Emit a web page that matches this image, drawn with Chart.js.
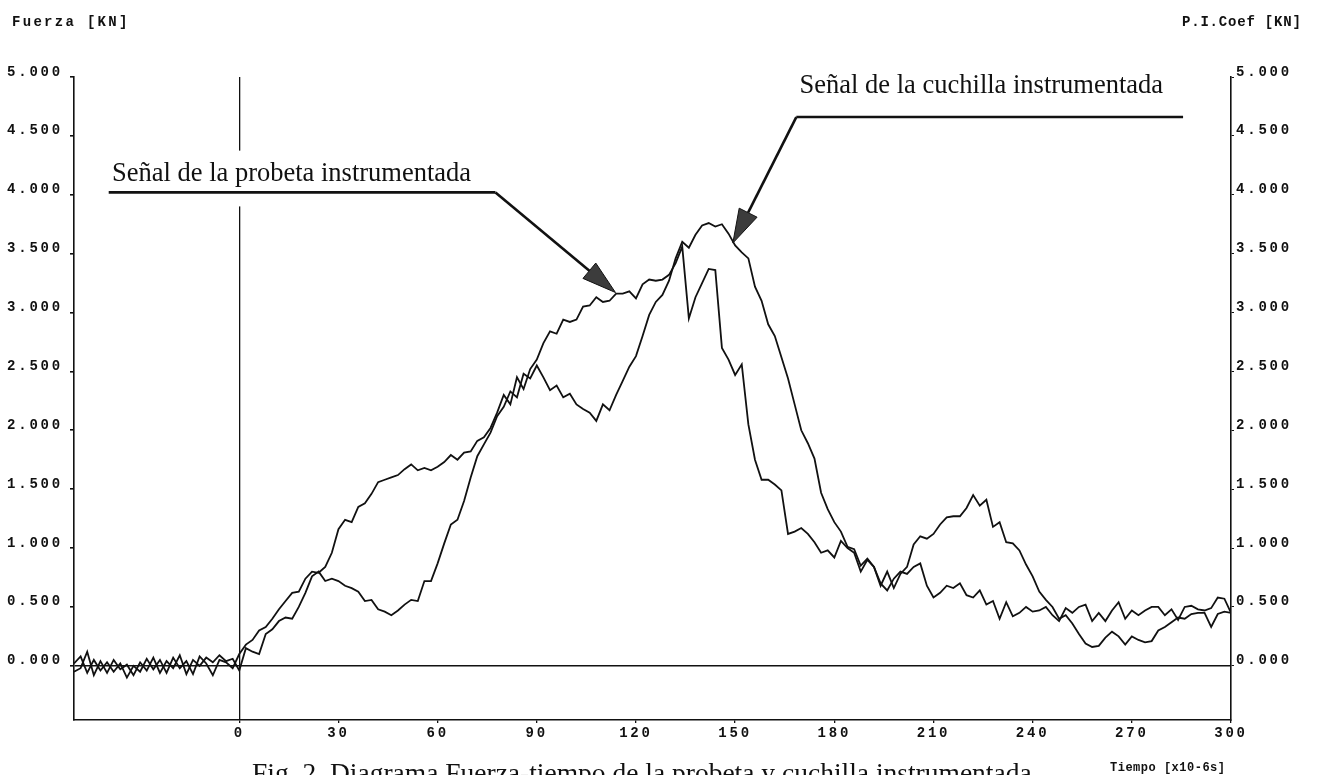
<!DOCTYPE html>
<html>
<head>
<meta charset="utf-8">
<script src="https://cdn.jsdelivr.net/npm/chart.js@4.4.0/dist/chart.umd.min.js"></script>
<style>
  html, body { margin: 0; padding: 0; background: #fff; }
  #wrap { position: relative; width: 1317px; height: 775px; overflow: hidden; }
</style>
</head>
<body>
<div id="wrap"><canvas id="chart" width="1317" height="775"></canvas></div>
<script>
// sample times, x10-6 s
const tiempo = [
  -50, -48, -46, -44, -42, -40, -38, -36, -34, -32,
  -30, -28, -26, -24, -22, -20, -18, -16, -14, -12,
  -10, -8, -6, -4, -2, 0, 2, 4, 6, 8,
  10, 12, 14, 16, 18, 20, 22, 24, 26, 28,
  30, 32, 34, 36, 38, 40, 42, 44, 46, 48,
  50, 52, 54, 56, 58, 60, 62, 64, 66, 68,
  70, 72, 74, 76, 78, 80, 82, 84, 86, 88,
  90, 92, 94, 96, 98, 100, 102, 104, 106, 108,
  110, 112, 114, 116, 118, 120, 122, 124, 126, 128,
  130, 132, 134, 136, 138, 140, 142, 144, 146, 148,
  150, 152, 154, 156, 158, 160, 162, 164, 166, 168,
  170, 172, 174, 176, 178, 180, 182, 184, 186, 188,
  190, 192, 194, 196, 198, 200, 202, 204, 206, 208,
  210, 212, 214, 216, 218, 220, 222, 224, 226, 228,
  230, 232, 234, 236, 238, 240, 242, 244, 246, 248,
  250, 252, 254, 256, 258, 260, 262, 264, 266, 268,
  270, 272, 274, 276, 278, 280, 282, 284, 286, 288,
  290, 292, 294, 296, 298, 300
];

// force, KN - specimen signal
const probeta = [
  0.02, 0.08, -0.06, 0.05, -0.04, 0.03, -0.05, 0.02, -0.10, 0.00,
  -0.05, 0.06, -0.03, 0.05, -0.06, 0.07, -0.02, 0.04, -0.07, 0.08,
  0.02, -0.08, 0.05, 0.03, -0.02, 0.10, 0.18, 0.22, 0.30, 0.33,
  0.40, 0.48, 0.55, 0.62, 0.63, 0.74, 0.80, 0.79, 0.84, 0.96,
  1.16, 1.24, 1.22, 1.35, 1.38, 1.46, 1.56, 1.58, 1.60, 1.62,
  1.67, 1.71, 1.66, 1.68, 1.66, 1.69, 1.73, 1.79, 1.75, 1.81,
  1.82, 1.91, 1.94, 2.02, 2.15, 2.30, 2.22, 2.45, 2.35, 2.52,
  2.60, 2.74, 2.84, 2.82, 2.94, 2.92, 2.94, 3.05, 3.06, 3.13,
  3.09, 3.10, 3.16, 3.16, 3.18, 3.12, 3.24, 3.28, 3.27, 3.28,
  3.32, 3.42, 3.56, 2.95, 3.13, 3.25, 3.37, 3.36, 2.70, 2.60,
  2.47, 2.56, 2.05, 1.75, 1.58, 1.58, 1.54, 1.49, 1.12, 1.14,
  1.17, 1.12, 1.05, 0.96, 0.98, 0.92, 1.06, 1.00, 0.96, 0.80,
  0.90, 0.84, 0.68, 0.80, 0.66, 0.78, 0.84, 1.03, 1.10, 1.08,
  1.12, 1.20, 1.26, 1.27, 1.27, 1.34, 1.45, 1.36, 1.41, 1.18,
  1.22, 1.05, 1.04, 0.98, 0.86, 0.76, 0.63, 0.56, 0.50, 0.40,
  0.43, 0.36, 0.27, 0.19, 0.16, 0.17, 0.24, 0.29, 0.25, 0.18,
  0.25, 0.22, 0.20, 0.21, 0.30, 0.33, 0.37, 0.41, 0.40, 0.44,
  0.45, 0.45, 0.33, 0.44, 0.46, 0.45
];

// force, KN - striker signal
const cuchilla = [
  -0.05, -0.02, 0.12, -0.08, 0.04, -0.06, 0.05, -0.03, 0.01, -0.08,
  0.03, -0.04, 0.07, -0.06, 0.04, -0.02, 0.09, -0.07, 0.05, 0.00,
  0.07, 0.03, 0.09, 0.04, 0.06, -0.04, 0.15, 0.12, 0.10, 0.27,
  0.31, 0.38, 0.41, 0.40, 0.50, 0.62, 0.76, 0.80, 0.72, 0.74,
  0.72, 0.68, 0.66, 0.63, 0.55, 0.56, 0.48, 0.46, 0.43, 0.47,
  0.52, 0.56, 0.55, 0.72, 0.72, 0.87, 1.04, 1.20, 1.24, 1.40,
  1.60, 1.78, 1.88, 1.98, 2.12, 2.20, 2.33, 2.28, 2.48, 2.44,
  2.55, 2.45, 2.34, 2.38, 2.28, 2.31, 2.22, 2.18, 2.15, 2.08,
  2.22, 2.17, 2.30, 2.42, 2.54, 2.63, 2.80, 2.98, 3.09, 3.15,
  3.27, 3.46, 3.60, 3.55, 3.66, 3.74, 3.76, 3.73, 3.75, 3.67,
  3.57, 3.51, 3.46, 3.22, 3.10, 2.90, 2.80, 2.62, 2.44, 2.22,
  2.00, 1.89, 1.76, 1.47, 1.33, 1.22, 1.14, 1.01, 0.99, 0.85,
  0.91, 0.84, 0.70, 0.64, 0.74, 0.80, 0.78, 0.84, 0.87, 0.68,
  0.58, 0.62, 0.68, 0.66, 0.70, 0.60, 0.58, 0.64, 0.52, 0.55,
  0.40, 0.54, 0.42, 0.45, 0.50, 0.46, 0.47, 0.50, 0.43, 0.38,
  0.49, 0.45, 0.50, 0.52, 0.38, 0.45, 0.38, 0.47, 0.54, 0.40,
  0.47, 0.43, 0.47, 0.50, 0.50, 0.43, 0.48, 0.39, 0.50, 0.51,
  0.48, 0.47, 0.49, 0.58, 0.57, 0.45
];

const xTicks = [0, 30, 60, 90, 120, 150, 180, 210, 240, 270, 300];
const yTicks = [0, 0.5, 1, 1.5, 2, 2.5, 3, 3.5, 4, 4.5, 5];

// callouts, anchored in data units (tiempo, fuerza)
const notaProbeta = {
  text: 'Señal de la probeta instrumentada',
  at: [-38.5, 4.12], lineY: 4.02, lineFrom: -39.5, lineTo: 77.5,
  tip: [113.8, 3.17]
};
const notaCuchilla = {
  text: 'Señal de la cuchilla instrumentada',
  at: [169.5, 4.86], lineY: 4.66, lineFrom: 168.5, lineTo: 285.5,
  tip: [149.3, 3.59]
};

const INK = '#111';
const MONO = "bold 14px 'Liberation Mono', 'DejaVu Sans Mono', monospace";
const SERIF = "'Liberation Serif', 'DejaVu Serif', serif";

function toPoints(values) {
  return tiempo.map((t, i) => ({ x: t, y: values[i] }));
}

// --- helpers ---
function drawArrow(ctx, x0, y0, x1, y1) {
  const ang = Math.atan2(y1 - y0, x1 - x0);
  const len = 34, hw = 10;
  const bx = x1 - len * Math.cos(ang), by = y1 - len * Math.sin(ang);
  ctx.save();
  ctx.beginPath();
  ctx.moveTo(x0, y0);
  ctx.lineTo(bx, by);
  ctx.stroke();
  ctx.beginPath();
  ctx.moveTo(x1, y1);
  ctx.lineTo(bx + hw * Math.sin(ang), by - hw * Math.cos(ang));
  ctx.lineTo(bx - hw * Math.sin(ang), by + hw * Math.cos(ang));
  ctx.closePath();
  ctx.fillStyle = '#3c3c3c';
  ctx.fill();
  ctx.lineWidth = 1;
  ctx.stroke();
  ctx.restore();
}

// tick labels of the plotter are spaced out
const spacing = {
  id: 'spacing',
  beforeDraw(chart) { chart.ctx.letterSpacing = '2.8px'; }
};

const callouts = {
  id: 'callouts',
  afterDraw(chart) {
    const { ctx, scales: { x, y } } = chart;
    ctx.save();
    ctx.letterSpacing = '0px';
    ctx.strokeStyle = INK;

    // pasted label hides the t=0 line behind it
    const px = x.getPixelForValue(notaProbeta.at[0]);
    const py = y.getPixelForValue(notaProbeta.at[1]);
    const ly = y.getPixelForValue(notaProbeta.lineY);
    ctx.fillStyle = '#fff';
    ctx.fillRect(px - 6, py - 30, 380, ly + 14 - (py - 30));

    [notaProbeta, notaCuchilla].forEach((n, k) => {
      const tx = x.getPixelForValue(n.at[0]);
      const ty = y.getPixelForValue(n.at[1]);
      const uy = y.getPixelForValue(n.lineY);
      const ux0 = x.getPixelForValue(n.lineFrom);
      const ux1 = x.getPixelForValue(n.lineTo);
      ctx.fillStyle = INK;
      ctx.font = '26.5px ' + SERIF;
      ctx.textAlign = 'left';
      ctx.textBaseline = 'alphabetic';
      ctx.fillText(n.text, tx, ty);
      ctx.lineWidth = 2.6;
      ctx.beginPath();
      ctx.moveTo(ux0, uy);
      ctx.lineTo(ux1, uy);
      ctx.stroke();
      const start = k === 0 ? ux1 : ux0;
      drawArrow(ctx, start, uy, x.getPixelForValue(n.tip[0]), y.getPixelForValue(n.tip[1]));
    });

    // axis titles
    ctx.fillStyle = INK;
    ctx.textBaseline = 'alphabetic';
    ctx.textAlign = 'left';
    ctx.font = MONO;
    ctx.letterSpacing = '2.3px';
    ctx.fillText('Fuerza [KN]', 12, 26);
    ctx.letterSpacing = '0.8px';
    ctx.fillText('P.I.Coef [KN]', 1182, 26);
    ctx.font = "bold 12px 'Liberation Mono', 'DejaVu Sans Mono', monospace";
    ctx.letterSpacing = '0.5px';
    ctx.fillText('Tiempo [x10-6s]', 1110, 771);

    // figure caption, cut by the page edge
    ctx.letterSpacing = '0px';
    ctx.font = '27.5px ' + SERIF;
    ctx.fillText('Fig. 2. Diagrama Fuerza-tiempo de la probeta y cuchilla instrumentada', 252, 782);
    ctx.restore();
  }
};

const axisFont = { family: "'Liberation Mono', 'DejaVu Sans Mono', monospace", size: 14, weight: 'bold' };
const zeroOnly = ctx => (ctx.tick && ctx.tick.value === 0) ? INK : 'rgba(0,0,0,0)';

new Chart(document.getElementById('chart'), {
  type: 'line',
  data: {
    datasets: [
      { label: 'Probeta', data: toPoints(probeta), borderColor: INK, borderWidth: 1.8, pointRadius: 0, tension: 0, yAxisID: 'y' },
      { label: 'Cuchilla', data: toPoints(cuchilla), borderColor: INK, borderWidth: 1.8, pointRadius: 0, tension: 0, yAxisID: 'y' }
    ]
  },
  options: {
    responsive: false,
    animation: false,
    layout: { padding: { top: 77, left: 0, right: 0, bottom: 0 } },
    plugins: { legend: { display: false }, tooltip: { enabled: false } },
    scales: {
      x: {
        type: 'linear', position: 'bottom', min: -50, max: 300,
        afterBuildTicks: s => { s.ticks = xTicks.map(v => ({ value: v })); },
        afterFit: s => { s.height = 55; },
        ticks: { font: axisFont, color: INK, padding: 2, maxRotation: 0, autoSkip: false, callback: v => String(v) },
        grid: { color: zeroOnly, lineWidth: 1.3, tickColor: INK, tickLength: 3 },
        border: { color: INK, width: 1.6 }
      },
      y: {
        type: 'linear', position: 'left', min: -0.46, max: 5,
        afterBuildTicks: s => { s.ticks = yTicks.map(v => ({ value: v })); },
        afterFit: s => { s.width = 74; },
        ticks: { font: axisFont, color: INK, padding: 7, labelOffset: -5, callback: v => Number(v).toFixed(3) },
        grid: { color: zeroOnly, lineWidth: 1.6, tickColor: INK, tickLength: 4 },
        border: { color: INK, width: 1.6 }
      },
      y2: {
        type: 'linear', position: 'right', min: -0.46, max: 5,
        afterBuildTicks: s => { s.ticks = yTicks.map(v => ({ value: v })); },
        afterFit: s => { s.width = 86; },
        ticks: { font: axisFont, color: INK, padding: 2, labelOffset: -5, callback: v => Number(v).toFixed(3) },
        grid: { drawOnChartArea: false, tickColor: INK, tickLength: 3 },
        border: { color: INK, width: 1.6 }
      }
    }
  },
  plugins: [spacing, callouts]
});
</script>
</body>
</html>
